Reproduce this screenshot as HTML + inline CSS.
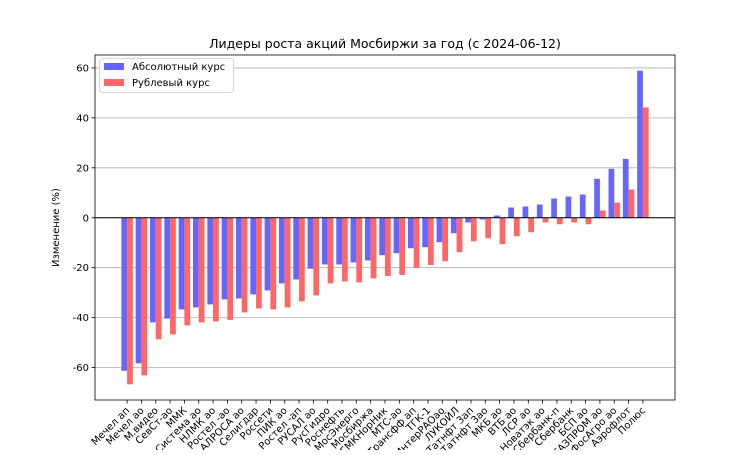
<!DOCTYPE html>
<html><head><meta charset="utf-8"><style>
body{margin:0;background:#fff;font-family:"Liberation Sans","DejaVu Sans",sans-serif;}
svg text{font-family:"DejaVu Sans","Liberation Sans",sans-serif;}
</style></head><body>
<svg id="chart" width="750" height="450" xmlns="http://www.w3.org/2000/svg">
<rect width="750" height="450" fill="#fff"/>
<text x="385" y="48" text-anchor="middle" font-size="12.5">Лидеры роста акций Мосбиржи за год (с 2024-06-12)</text>
<g id="grid"></g><g id="bars"></g><g id="axes"></g>
</svg>
<script>
const categories=["Мечел ап","Мечел ао","М.видео","СевСт-ао","ММК","Система ао","НЛМК ао","Ростел -ао","АЛРОСА ао","Селигдар","Россети","ПИК ао","Ростел -ап","РУСАЛ ао","РусГидро","Роснефть","МосЭнерго","Мосбиржа","ГМКНорНик","МТС-ао","Трансфф ап","ТГК-1","ИнтерРАОао","ЛУКОЙЛ","Татнфт 3ап","Татнфт 3ао","МКБ ао","ВТБ ао","ЛСР ао","Новатэк ао","Сбербанк-п","Сбербанк","БСП ао","ГАЗПРОМ ао","ФосАгро ао","Аэрофлот","Полюс"];
const absValues=[-61.3,-58.3,-41.9,-40.4,-36.7,-35.9,-34.7,-32.7,-32.3,-30.7,-29.1,-26.3,-24.7,-20.4,-18.7,-18.7,-17.9,-17.1,-15.0,-14.2,-12.2,-11.8,-9.8,-6.2,-1.9,-0.7,0.9,4.1,4.5,5.3,7.7,8.5,9.3,15.6,19.6,23.6,58.9];
const rubValues=[-66.7,-63.1,-48.7,-46.7,-43.1,-41.9,-41.5,-40.9,-37.9,-36.3,-36.7,-35.9,-33.5,-31.1,-26.3,-25.5,-25.9,-24.3,-23.3,-22.9,-20.1,-18.9,-17.4,-13.8,-9.4,-8.2,-10.6,-7.4,-5.8,-1.9,-2.6,-1.9,-2.6,2.9,6.1,11.3,44.2];
const yTicks=[-60,-40,-20,0,20,40,60];
const NS="http://www.w3.org/2000/svg";
const L=95,R=675,T=55,B=400;
const n=categories.length;
const xMin=-0.4-0.05*(n-1+0.8),xMax=n-1+0.4+0.05*(n-1+0.8);
const all=absValues.concat(rubValues);
const dMin=Math.min(0,...all),dMax=Math.max(0,...all),pad=(dMax-dMin)*0.05;
const yMin=dMin-pad,yMax=dMax+pad;
const xs=v=>L+(v-xMin)/(xMax-xMin)*(R-L);
const ys=v=>B-(v-yMin)/(yMax-yMin)*(B-T);
function mk(tag,attrs,parent){const e=document.createElementNS(NS,tag);for(const k in attrs)e.setAttribute(k,attrs[k]);parent.appendChild(e);return e;}
const grid=document.getElementById('grid'),bars=document.getElementById('bars'),axes=document.getElementById('axes');
yTicks.forEach(t=>{
 const y=ys(t);
 const g=mk('line',{x1:L,x2:R,y1:y,y2:y,stroke:'#b0b0b0','stroke-width':0.8},grid);
 
 
 const tk=mk('line',{x1:L-3.5,x2:L,y1:y,y2:y,stroke:'#000','stroke-width':0.8},axes);
 
 
 const tx=mk('text',{x:L-6,y:y+3.5,'text-anchor':'end','font-size':10},axes);
 tx.textContent=t;
 
 
});
const w=0.4*(R-L)/(xMax-xMin);
categories.forEach((c,i)=>{
 const cx=xs(i);
 [[absValues[i],'#6666ff',-1,'bar-absolute'],[rubValues[i],'#ff6666',0,'bar-ruble']].forEach(([v,col,off,nm])=>{
  const y0=ys(0),y1=ys(v);
  const r=mk('rect',{x:cx+off*w,y:Math.min(y0,y1),width:w,height:Math.abs(y1-y0),fill:col},bars);
  
  
 });
 const tk=mk('line',{x1:cx,x2:cx,y1:B,y2:B+3.5,stroke:'#000','stroke-width':0.8},axes);
 
 
 const tx=mk('text',{x:cx+3,y:B+11,'text-anchor':'end','font-size':10,transform:`rotate(-45 ${cx+3} ${B+11})`},axes);
 tx.textContent=c;
 
 
});
const zl=mk('line',{x1:L,x2:R,y1:ys(0),y2:ys(0),stroke:'#000','stroke-width':1},axes);


const fr=mk('rect',{x:L,y:T,width:R-L,height:B-T,fill:'none',stroke:'#000','stroke-width':0.8},axes);


const yl=mk('text',{x:59,y:(T+B)/2,'text-anchor':'middle','font-size':10,transform:`rotate(-90 59 ${(T+B)/2})`},axes);
yl.textContent='Изменение (%)';


const lg=mk('g',{},axes);


mk('rect',{x:99.5,y:58.5,width:134,height:34,rx:3,fill:'#fff',stroke:'#ccc','stroke-width':0.8},lg);
[['Абсолютный курс','#6666ff',63,'legend-entry-absolute'],['Рублевый курс','#ff6666',79,'legend-entry-ruble']].forEach(([t,c,y,nm])=>{
 const g=mk('g',{},lg);
 
 
 mk('rect',{x:104,y:y,width:20,height:7,fill:c},g);
 const tx=mk('text',{x:132,y:y+7,'font-size':10},g);
 tx.textContent=t;
});
</script>
</body></html>
